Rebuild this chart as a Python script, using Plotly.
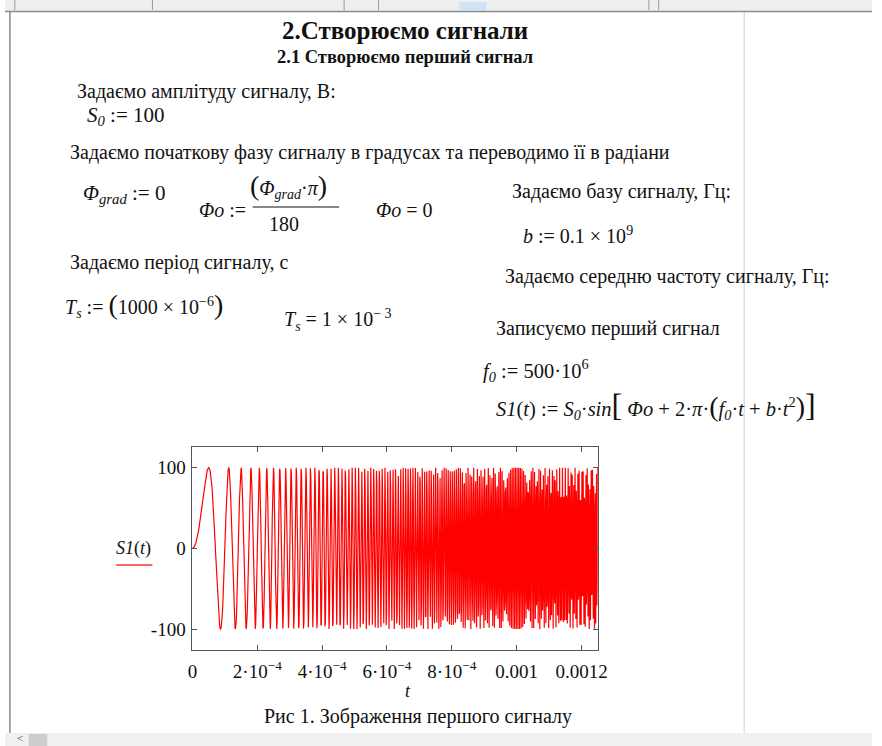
import numpy as np
import plotly.graph_objects as go

# ---- values shown in the worksheet ----
S0 = 100            # amplitude, V
PHI_GRAD = 0        # initial phase, degrees
B = 0.1e9           # chirp base, Hz
F0 = 500e6          # centre frequency, Hz
T_END = 0.00125     # plotted range of t
N_POINTS = 1000     # Mathcad plot samples over the range

x_tick_vals = [0, 2e-4, 4e-4, 6e-4, 8e-4, 0.001, 0.0012]
x_tick_text = ["0", "2·10<sup>−4</sup>", "4·10<sup>−4</sup>", "6·10<sup>−4</sup>",
               "8·10<sup>−4</sup>", "0.001", "0.0012"]
y_tick_vals = [100, 0, -100]
y_tick_text = ["100", "0", "-100"]

# S1(t) := S0·sin[Φo + 2·π·(f0·t + b·t²)] as written on the page
phi_o = PHI_GRAD * np.pi / 180
t = np.linspace(0, T_END, N_POINTS + 1)
s1 = S0 * np.sin(phi_o + 2 * np.pi * (F0 * t + B * t ** 2))

W, H = 882, 746
def px(x): return x / W
def py(y): return 1 - y / H

SERIF = "'Liberation Serif', 'Times New Roman', serif"

fig = go.Figure()
fig.add_trace(go.Scatter(x=t, y=s1, mode="lines",
                         line=dict(color="#ff0000", width=1.2), hoverinfo="skip"))

ax_common = dict(showgrid=False, zeroline=False, showline=True, linecolor="#555",
                 linewidth=1, mirror="ticks", ticks="inside", ticklen=5,
                 tickcolor="#555", tickfont=dict(family=SERIF, size=19, color="#111"))
fig.update_layout(
    width=W, height=H, margin=dict(l=0, r=0, t=0, b=0),
    paper_bgcolor="white", plot_bgcolor="white", showlegend=False,
    font=dict(family=SERIF, size=19, color="#111"),
    xaxis=dict(domain=[px(190.7), px(603)], range=[0, T_END],
               tickvals=x_tick_vals, ticktext=x_tick_text, ticklabelstandoff=4,
               **ax_common),
    yaxis=dict(domain=[py(650), py(446.7)], range=[-126, 126],
               tickvals=y_tick_vals, ticktext=y_tick_text, ticklabelstandoff=2,
               **ax_common),
)

ann = []
def txt(x, y, s, size=20, anchor="left", color="#111"):
    ann.append(dict(x=px(x - (3 if anchor == "left" else 0)), y=py(y),
                    xref="paper", yref="paper", text=s,
                    showarrow=False, xanchor=anchor, yanchor="middle",
                    font=dict(family=SERIF, size=size, color=color)))

BIGP = "<span style='font-size:28px'>%s</span>"
BIGB = "<span style='font-size:32px'>%s</span>"

# headings
txt(407, 30, "<b>2.Створюємо сигнали</b>", size=25, anchor="center")
txt(407, 57, "<b>2.1 Створюємо перший сигнал</b>", size=18.5, anchor="center")

# left column
txt(74, 92, "Задаємо амплітуду сигналу, В:")
txt(84, 116, "<i>S</i><sub><i>0</i></sub> := 100", size=21)
txt(67, 152, "Задаємо початкову фазу сигналу в градусах та переводимо її в радіани")
txt(80, 194, "<i>Φ</i><sub><i>grad</i></sub> := 0", size=21)
txt(198, 210, "<i>Φo</i> :=", size=20)
txt(250, 186, (BIGP % "(") + "<i>Φ</i><sub><i>grad</i></sub>·<i>π</i>" + (BIGP % ")"), size=20)
txt(270, 224, "180", size=20)
txt(378, 210, "<i>Φo</i> = 0", size=20)
txt(67, 262, "Задаємо період сигналу, с")
txt(62, 305, "<i>T</i><sub><i>s</i></sub> := " + (BIGP % "(") + "1000 × 10<sup>−6</sup>" + (BIGP % ")"), size=20)
txt(285, 320, "<i>T</i><sub><i>s</i></sub> = 1 × 10<sup>− 3</sup>", size=20)

# right column
txt(517, 192, "Задаємо базу сигналу, Гц:")
txt(528, 235, "<i>b</i> := 0.1 × 10<sup>9</sup>", size=20)
txt(510, 276, "Задаємо середню частоту сигналу, Гц:")
txt(500, 328, "Записуємо перший сигнал")
txt(487, 370, "<i>f</i><sub><i>0</i></sub> := 500·10<sup>6</sup>", size=20.5)
txt(500, 405, "<i>S1</i>(<i>t</i>) := <i>S</i><sub><i>0</i></sub>·<i>sin</i>" + (BIGB % "[") +
    " <i>Φo</i> + 2·<i>π</i>·" + (BIGP % "(") + "<i>f</i><sub><i>0</i></sub>·<i>t</i> + <i>b</i>·<i>t</i><sup>2</sup>" +
    (BIGP % ")") + (BIGB % "]"), size=20.5)

# plot labels
txt(131, 548, "<i>S1</i>(<i>t</i>)", size=18, anchor="center")
txt(410, 691, "<i>t</i>", size=18, anchor="center")
txt(420, 716, "Рис 1. Зображення першого сигналу", size=20, anchor="center")
txt(15, 738, "<", size=11, anchor="center", color="#333")

fig.update_layout(annotations=ann)

shapes = []
def rect(x0, y0, x1, y1, fill):
    shapes.append(dict(type="rect", xref="paper", yref="paper",
                       x0=px(x0), x1=px(x1), y0=py(y1), y1=py(y0),
                       fillcolor=fill, line=dict(width=0), layer="below"))
def hline(x0, x1, y, color, w=1):
    shapes.append(dict(type="line", xref="paper", yref="paper",
                       x0=px(x0), x1=px(x1), y0=py(y), y1=py(y),
                       line=dict(color=color, width=w)))
def vline(x, y0, y1, color, w=1):
    shapes.append(dict(type="line", xref="paper", yref="paper",
                       x0=px(x), x1=px(x), y0=py(y0), y1=py(y1),
                       line=dict(color=color, width=w)))

# window chrome
rect(0, 0, W, 11, "#efefef")
hline(0, W, 11.5, "#8a8a8a", 1.5)
for xs in [10, 150, 345, 380, 655, 665]:
    vline(xs, 0, 10, "#9a9a9a")
rect(462, 2, 490, 10, "#cfe3f7")
vline(5, 11, 733, "#8a8a8a", 1.5)
vline(752, 12, 733, "#d0d0d0", 1)
rect(0, 733, W, H, "#f0f0f0")
rect(24, 734, 43, H, "#cdcdcd")
# fraction bar for Φo
hline(252, 340, 207, "#111", 1)
# legend line under S1(t)
hline(113, 150, 565, "#ff3333", 1.3)

fig.update_layout(shapes=shapes)

fig.write_html("out.html", config={"displayModeBar": False},
               post_script="document.body.style.margin='0';document.body.style.overflow='hidden';")
